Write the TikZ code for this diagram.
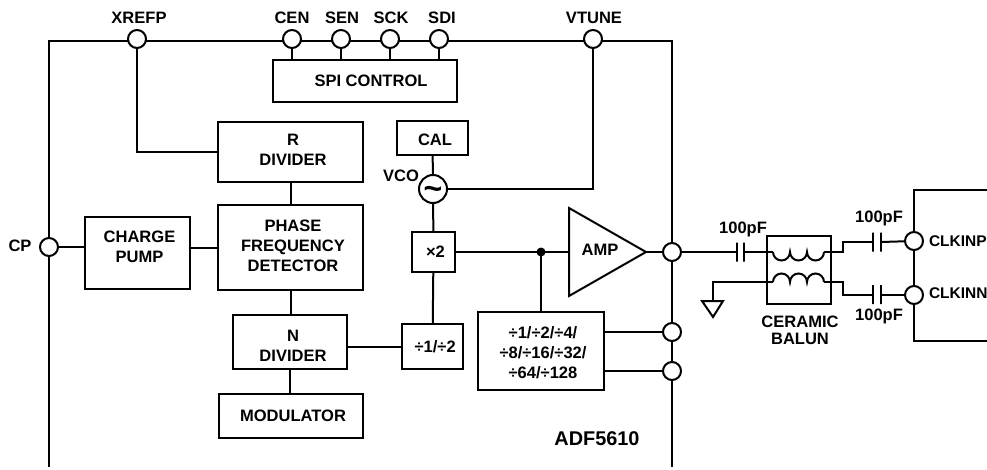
\documentclass[tikz,border=0pt]{standalone}
\usepackage{fontspec}
\setmainfont{Liberation Sans}
\usetikzlibrary{calc, positioning}
\begin{document}
\begin{tikzpicture}[x=0.75pt, y=-0.75pt, line width=1.5pt, font=\fontsize{12.4}{15}\selectfont\bfseries,
		block/.style 2 args={draw, align=center, inner sep=0pt, minimum width=#1*0.75pt, minimum height=#2*0.75pt},
		blocktext/.style={align=center, inner sep=0pt},
		pin/.style={draw, circle, fill=white, inner sep=0pt, minimum size=18*0.75pt},
		plate/.style={draw, inner sep=0pt, minimum width=0pt, minimum height=19*0.75pt},
		border/.style={line width=2pt}]
	\useasboundingbox (0,0) rectangle (987,470);

	\coordinate (bl) at (49,467);
	\coordinate (tr) at (672,41);
	\coordinate (br) at (672,467);
	\coordinate (extop) at (987,190);
	\coordinate (exbot) at (987,341);
	\draw[border] (bl) |- (tr) -- (br);
	\draw[border] (extop) -| (914,341) -- (exbot);

	\node[pin] (xrefp) at (137,39) {};
	\node[pin] (cen) at (292,39) {};
	\node[pin] (sen) at (341,39) {};
	\node[pin] (sck) at (390,39) {};
	\node[pin] (sdi) at (439,39) {};
	\node[pin] (vtune) at (593,39) {};
	\node[pin] (cp) at (49,247) {};
	\node[pin] (out) at (672,252) {};
	\node[pin] (auxa) at (672,332) {};
	\node[pin] (auxb) at (672,371) {};
	\node[pin] (clkp) at (914,241) {};
	\node[pin] (clkn) at (914,295) {};

	\node (xrefplabel) at (139,17.5) {XREFP};
	\node (cenlabel) at (292,17.5) {CEN};
	\node (senlabel) at (342,17.5) {SEN};
	\node (scklabel) at (391,17.5) {SCK};
	\node (sdilabel) at (442,17.5) {SDI};
	\node (vtunelabel) at (594,17.5) {VTUNE};
	\node (cplabel) at (20,246) {CP};
	\node (vcolabel) at (401,176) {VCO};
	\node[font=\fontsize{14.9}{15}\selectfont\bfseries] (partlabel) at (597,439) {ADF5610};
	\node[right, inner sep=0pt, font=\fontsize{11.6}{15}\selectfont\bfseries] (clkplabel) at (928,241) {CLKINP};
	\node[right, inner sep=0pt, font=\fontsize{11.6}{15}\selectfont\bfseries] (clknlabel) at (928,293) {CLKINN};

	\node[block={184}{42}] (spi) at (365,81) {\hspace*{9pt}SPI CONTROL};
	\node[block={145}{60}] (rdiv) at (290.5,152) {};
	\node[block={145}{85}] (pfd) at (290.5,247.5) {};
	\node[block={105}{72}] (pump) at (137.5,253) {};
	\node[block={114}{54}] (ndiv) at (290,342) {};
	\node[block={144}{44}] (mod) at (291,416) {\hspace*{3pt}MODULATOR};
	\node[block={71}{34}] (cal) at (432.5,138) {};
	\node[draw, circle, inner sep=0pt, minimum size=28*0.75pt] (vco) at (433,189) {};
	\node[block={43}{40}] (dbl) at (433.5,252) {\hspace*{3pt}×2};
	\node[block={61}{45}] (halve) at (432.5,346.5) {\hspace*{4pt}÷1/÷2};
	\node[block={126}{78}] (outdiv) at (541,351) {};

	\node[blocktext] (rdivtext) at ($(rdiv)+(2.5,-2.5)$) {R\\DIVIDER};
	\node[blocktext] (pfdtext) at ($(pfd)+(2.5,-1.5)$) {PHASE\\FREQUENCY\\DETECTOR};
	\node[blocktext] (pumptext) at ($(pump)+(2,-6)$) {CHARGE\\PUMP};
	\node[blocktext] (ndivtext) at ($(ndiv)+(3,4)$) {N\\DIVIDER};
	\node[blocktext] (caltext) at ($(cal)+(2.5,2)$) {CAL};
	\node[blocktext] (outdivtext) at ($(outdiv)+(2,2)$) {÷1/÷2/÷4/\\÷8/÷16/÷32/\\÷64/÷128};
	\node[blocktext, font=\fontsize{24}{24}\selectfont\bfseries] (vcotext) at ($(vco)+(0,4)$) {\textasciitilde};

	\coordinate (ampin) at (569,252);
	\coordinate (amptip) at (646,252);
	\draw (569,208) -- (amptip) -- (569,296) -- cycle;
	\node (amplabel) at (600,250) {AMP};
	\fill (541,252) circle (4.5) coordinate (tap);

	\draw (xrefp) |- (rdiv);
	\foreach \p in {cen, sen, sck, sdi}
		\draw (\p) -- (\p |- spi.north);
	\draw (vtune) |- (vco);
	\draw (cal) -- (vco);
	\draw (vco) -- (dbl);
	\draw (dbl) -- (halve);
	\draw (dbl) -- (ampin);
	\draw (tap) -- (outdiv);
	\draw (amptip) -- (out);
	\draw (rdiv) -- (pfd);
	\draw (pfd) -- (pfd |- ndiv.north);
	\draw (ndiv) -- (ndiv |- mod.north);
	\draw (cp) -- (cp -| pump.west);
	\draw (pump.east |- pfd) -- (pfd);
	\draw (ndiv.east |- halve) -- (halve);
	\draw (outdiv.east |- auxa) -- (auxa);
	\draw (outdiv.east |- auxb) -- (auxb);

	\node[plate] (caola) at (737,252) {};
	\node[plate] (caolb) at (744,252) {};
	\node[plate] (cpa) at (873,242) {};
	\node[plate] (cpb) at (881,242) {};
	\node[plate] (cna) at (873,294.5) {};
	\node[plate] (cnb) at (881,294.5) {};
	\node (capolabel) at (743,229) {100pF};
	\node (cplabelb) at (879,218) {100pF};
	\node (cnlabel) at (879,316) {100pF};

	\node[block={64}{68}] (balun) at (799,270) {};
	\node[blocktext] (balunlabel) at (800,330) {CERAMIC\\[-2.25pt]BALUN};

	\coordinate (pria) at (773,252);
	\coordinate (prib) at (824,252);
	\coordinate (seca) at (773,282);
	\coordinate (secb) at (824,282);
	\draw (pria) arc (180:0:8.5) arc (180:0:8.5) arc (180:0:8.5);
	\draw (seca) arc (180:360:8.5) arc (180:360:8.5) arc (180:360:8.5);

	\coordinate (gnd) at (713,301);
	\draw (702,301) -- (723,301) -- (713,317) -- cycle;
	\draw (out) -- (caola);
	\draw (caolb) -- (pria);
	\draw (gnd) |- (seca);
	\draw (prib) -- (843,252) |- (cpa);
	\draw (secb) -- (843,282) |- (cna);
	\draw (cpb) -- (clkp);
	\draw (cnb) -- (cnb -| clkn.west);
\end{tikzpicture}
\end{document}
